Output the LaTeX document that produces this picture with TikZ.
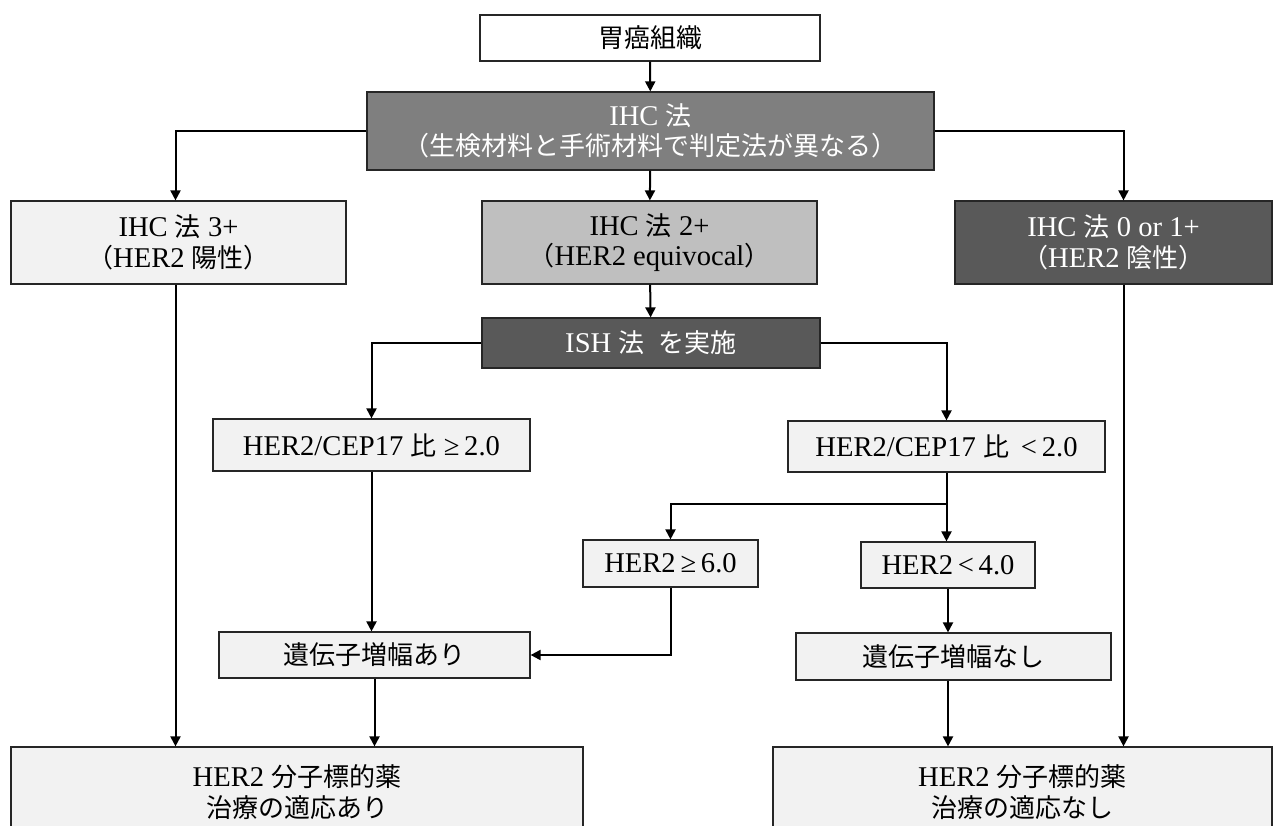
\documentclass[tikz,border=0pt]{standalone}
\usepackage{fontspec}
\setmainfont{Liberation Serif}[Scale=1.1]
\newfontfamily\jp{Noto Sans CJK JP}
\usetikzlibrary{arrows.meta,calc}
\definecolor{gMid}{HTML}{7F7F7F}
\definecolor{gDark}{HTML}{595959}
\definecolor{gLight}{HTML}{BFBFBF}
\definecolor{gPale}{HTML}{F2F2F2}
\tikzset{
  box/.style={draw=black!85, line width=1.2pt, align=center, inner sep=0pt,
    font=\fontsize{26}{30.5}\selectfont},
  palebox/.style={box, fill=gPale},
  darkbox/.style={box, fill=gDark, text=white},
  conn/.style={line width=2pt, -{Triangle[length=10pt,width=10pt]}},
}
\begin{document}
\begin{tikzpicture}[x=1pt,y=-1pt]
\path[use as bounding box, fill=white] (0,0) rectangle (1282,825);

\node[box, fill=white, minimum width=340pt, minimum height=46pt] (tissue) at (650,38) {\jp 胃癌組織};
\node[box, fill=gMid, text=white, minimum width=567pt, minimum height=78pt] (ihc) at (650.5,131)
  {IHC {\jp 法}\\{\jp （生検材料と手術材料で判定法が異なる）}};
\node[palebox, minimum width=335pt, minimum height=83pt] (ihc3) at (178.5,242.5)
  {IHC {\jp 法} 3+\\{\jp （}HER2 {\jp 陽性）}};
\node[box, fill=gLight, minimum width=335pt, minimum height=83pt] (ihc2) at (649.5,242.5)
  {IHC {\jp 法} 2+\\{\jp （}HER2 equivocal{\jp ）}};
\node[darkbox, minimum width=317pt, minimum height=83pt] (ihc01) at (1113.5,242.5)
  {IHC {\jp 法} 0 or 1+\\{\jp （}HER2 {\jp 陰性）}};
\node[darkbox, minimum width=338pt, minimum height=50pt] (ish) at (651,343)
  {ISH {\jp 法}\hspace{0.5em}{\jp を実施}};
\node[palebox, minimum width=317pt, minimum height=52pt] (ratioHi) at (371.5,445)
  {HER2/CEP17 {\jp 比} ≥\,2.0};
\node[palebox, minimum width=317pt, minimum height=51pt] (ratioLo) at (946.5,446.5)
  {HER2/CEP17 {\jp 比} \,<\,2.0};
\node[palebox, minimum width=175pt, minimum height=47pt] (her6) at (670.5,563.5)
  {HER2\,≥\,6.0};
\node[palebox, minimum width=174pt, minimum height=46pt] (her4) at (948,565)
  {HER2\,<\,4.0};
\node[palebox, minimum width=311pt, minimum height=46pt] (ampYes) at (374.5,655)
  {\jp 遺伝子増幅あり};
\node[palebox, minimum width=315pt, minimum height=47pt] (ampNo) at (953.5,656.5)
  {\jp 遺伝子増幅なし};
\node[palebox, minimum width=572pt, minimum height=90pt] (treatYes) at (297,792)
  {HER2 {\jp 分子標的薬}\\{\jp 治療の適応あり}};
\node[palebox, minimum width=499pt, minimum height=90pt] (treatNo) at (1022.5,792)
  {HER2 {\jp 分子標的薬}\\{\jp 治療の適応なし}};

\coordinate (j) at ($(ratioLo.south)+(0,31)$);

\draw[conn] (tissue) -- (ihc);
\draw[conn] (ihc.west) -| ([xshift=-3pt]ihc3.north);
\draw[conn] (ihc.east) -| ([xshift=10pt]ihc01.north);
\draw[conn] (ihc) -- (ihc2);
\draw[conn] ([xshift=-3pt]ihc3.south) -- ([xshift=-3pt]ihc3.south |- treatYes.north);
\draw[conn] ([xshift=10pt]ihc01.south) -- ([xshift=10pt]ihc01.south |- treatNo.north);
\draw[conn] (ihc2) -- (ish);
\draw[conn] (ish.west) -| (ratioHi.north);
\draw[conn] (ish.east) -| (ratioLo.north);
\draw[conn] (ratioHi.south) -- (ratioHi.south |- ampYes.north);
\draw[conn] (ratioLo.south) -- (ratioLo.south |- her4.north);
\draw[conn] (j) -| (her6.north);
\draw[conn] (her6.south) |- (ampYes.east);
\draw[conn] (her4.south) -- (her4.south |- ampNo.north);
\draw[conn] (ampYes.south) -- (ampYes.south |- treatYes.north);
\draw[conn] (ampNo.south -| her4.south) -- (her4.south |- treatNo.north);
\end{tikzpicture}
\end{document}
